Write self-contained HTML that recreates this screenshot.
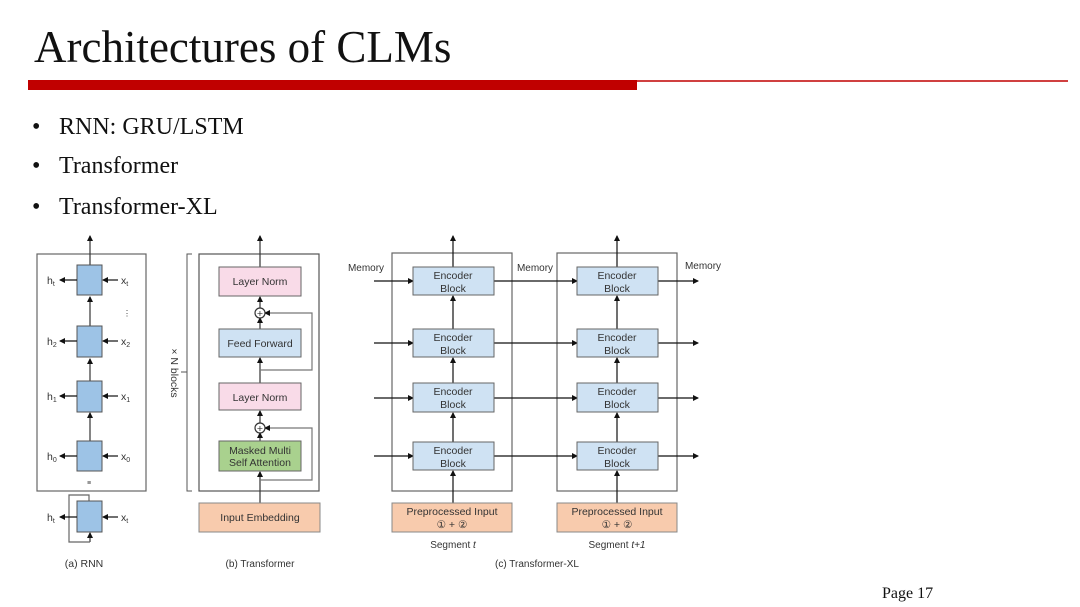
<!DOCTYPE html>
<html><head><meta charset="utf-8"><style>
html,body{margin:0;padding:0;background:#fff;}
svg{display:block;}
.s{font-family:"Liberation Serif",serif;fill:#111;}
.a{font-family:"Liberation Sans",sans-serif;fill:#333;font-size:10.5px;}
</style></head><body>
<svg width="1080" height="607" viewBox="0 0 1080 607" xmlns="http://www.w3.org/2000/svg">
<defs><marker id="ar" markerWidth="6" markerHeight="6" refX="5" refY="3" orient="auto" markerUnits="userSpaceOnUse"><path d="M0,0 L6,3 L0,6 z" fill="#111"/></marker></defs>
<text class="s" x="34" y="62" font-size="45">Architectures of CLMs</text>
<rect x="28" y="80" width="609" height="10" fill="#c00000"/>
<line x1="637" y1="81" x2="1068" y2="81" stroke="#c00000" stroke-width="1.5"/>
<g class="s" font-size="24"><text x="32" y="134">•</text><text x="59" y="134">RNN: GRU/LSTM</text>
<text x="32" y="173">•</text><text x="59" y="173">Transformer</text>
<text x="32" y="214">•</text><text x="59" y="214">Transformer-XL</text></g>
<text class="s" x="882" y="598" font-size="16">Page 17</text>

<g stroke="#333" stroke-width="1.2" fill="none">
<rect x="37" y="254" width="109" height="237" stroke="#666"/>
<line x1="90" y1="441" x2="90" y2="413" marker-end="url(#ar)"/>
<line x1="90" y1="381" x2="90" y2="359" marker-end="url(#ar)"/>
<line x1="90" y1="326" x2="90" y2="297" marker-end="url(#ar)"/>
<line x1="90" y1="265" x2="90" y2="236" marker-end="url(#ar)"/>
<line x1="90" y1="542" x2="90" y2="533" marker-end="url(#ar)"/>
<polyline points="90,542 69,542 69,495 89,495 89,501" stroke="#666"/>
</g>
<g fill="#9dc3e6" stroke="#555">
<rect x="77" y="265" width="25" height="30"/><rect x="77" y="326" width="25" height="31"/>
<rect x="77" y="381" width="25" height="31"/><rect x="77" y="441" width="25" height="30"/>
<rect x="77" y="501" width="25" height="31"/></g>
<g stroke="#111" stroke-width="1.2" marker-end="url(#ar)">
<line x1="77" y1="280" x2="60" y2="280"/><line x1="77" y1="341" x2="60" y2="341"/><line x1="77" y1="396" x2="60" y2="396"/><line x1="77" y1="456" x2="60" y2="456"/><line x1="77" y1="517" x2="60" y2="517"/>
<line x1="118" y1="280" x2="103" y2="280"/><line x1="118" y1="341" x2="103" y2="341"/><line x1="118" y1="396" x2="103" y2="396"/><line x1="118" y1="456" x2="103" y2="456"/><line x1="118" y1="517" x2="103" y2="517"/></g>
<g class="a" font-size="10"><text x="47" y="284">h<tspan font-size="7" dy="2">t</tspan></text><text x="47" y="345">h<tspan font-size="7" dy="2">2</tspan></text><text x="47" y="400">h<tspan font-size="7" dy="2">1</tspan></text><text x="47" y="460">h<tspan font-size="7" dy="2">0</tspan></text><text x="47" y="521">h<tspan font-size="7" dy="2">t</tspan></text>
<text x="121" y="284">x<tspan font-size="7" dy="2">t</tspan></text><text x="121" y="345">x<tspan font-size="7" dy="2">2</tspan></text><text x="121" y="400">x<tspan font-size="7" dy="2">1</tspan></text><text x="121" y="460">x<tspan font-size="7" dy="2">0</tspan></text><text x="121" y="521">x<tspan font-size="7" dy="2">t</tspan></text>
<text x="123" y="316" font-size="8">⋮</text><text x="87" y="485" font-size="7">≡</text></g>
<text class="a" x="84" y="567" text-anchor="middle" font-size="10">(a) RNN</text>

<path d="M192,254 L187,254 L187,491 L192,491 M187,372 L181,372" stroke="#555" fill="none"/>
<text class="a" transform="translate(171,373) rotate(90)" text-anchor="middle" font-size="10">× N blocks</text>
<rect x="199" y="254" width="120" height="237" fill="none" stroke="#555" stroke-width="1.2"/>
<g stroke="#333" stroke-width="1.2" fill="none">
<line x1="260" y1="503" x2="260" y2="472" marker-end="url(#ar)"/>
<line x1="260" y1="441" x2="260" y2="433" marker-end="url(#ar)"/>
<line x1="260" y1="423" x2="260" y2="411" marker-end="url(#ar)"/>
<line x1="260" y1="383" x2="260" y2="358" marker-end="url(#ar)"/>
<line x1="260" y1="329" x2="260" y2="318" marker-end="url(#ar)"/>
<line x1="260" y1="308" x2="260" y2="297" marker-end="url(#ar)"/>
<line x1="260" y1="267" x2="260" y2="236" marker-end="url(#ar)"/>
<polyline points="260,480 312,480 312,428 265,428" stroke="#777" marker-end="url(#ar)"/>
<polyline points="260,370 312,370 312,313 265,313" stroke="#777" marker-end="url(#ar)"/>
<circle cx="260" cy="313" r="5" fill="#fff"/><circle cx="260" cy="428" r="5" fill="#fff"/>
</g>
<text class="a" x="260" y="317" text-anchor="middle" font-size="9">+</text><text class="a" x="260" y="432" text-anchor="middle" font-size="9">+</text>
<rect x="219" y="267" width="82" height="29" fill="#f9dbe8" stroke="#666"/>
<rect x="219" y="329" width="82" height="28" fill="#cfe2f3" stroke="#666"/>
<rect x="219" y="383" width="82" height="27" fill="#f9dbe8" stroke="#666"/>
<rect x="219" y="441" width="82" height="30" fill="#a9d18e" stroke="#666"/>
<rect x="199" y="503" width="121" height="29" fill="#f8cbad" stroke="#888"/>
<g class="a" text-anchor="middle"><text x="260" y="285">Layer Norm</text><text x="260" y="347">Feed Forward</text><text x="260" y="401">Layer Norm</text><text x="260" y="454">Masked Multi</text><text x="260" y="466">Self Attention</text><text x="260" y="521">Input Embedding</text>
<text x="260" y="567" font-size="10">(b) Transformer</text></g>

<rect x="392" y="253" width="120" height="238" fill="none" stroke="#666" stroke-width="1.2"/>
<rect x="557" y="253" width="120" height="238" fill="none" stroke="#666" stroke-width="1.2"/>
<g stroke="#111" stroke-width="1.2" marker-end="url(#ar)">
<line x1="453" y1="503" x2="453" y2="471"/><line x1="453" y1="442" x2="453" y2="413"/><line x1="453" y1="383" x2="453" y2="358"/><line x1="453" y1="329" x2="453" y2="296"/><line x1="453" y1="267" x2="453" y2="236"/>
<line x1="617" y1="503" x2="617" y2="471"/><line x1="617" y1="442" x2="617" y2="413"/><line x1="617" y1="383" x2="617" y2="358"/><line x1="617" y1="329" x2="617" y2="296"/><line x1="617" y1="267" x2="617" y2="236"/>
<line x1="374" y1="281" x2="413" y2="281"/><line x1="374" y1="343" x2="413" y2="343"/><line x1="374" y1="398" x2="413" y2="398"/><line x1="374" y1="456" x2="413" y2="456"/>
<line x1="494" y1="281" x2="577" y2="281"/><line x1="494" y1="343" x2="577" y2="343"/><line x1="494" y1="398" x2="577" y2="398"/><line x1="494" y1="456" x2="577" y2="456"/>
<line x1="658" y1="281" x2="698" y2="281"/><line x1="658" y1="343" x2="698" y2="343"/><line x1="658" y1="398" x2="698" y2="398"/><line x1="658" y1="456" x2="698" y2="456"/>
</g>
<g fill="#cfe2f3" stroke="#666">
<rect x="413" y="267" width="81" height="28"/><rect x="413" y="329" width="81" height="28"/><rect x="413" y="383" width="81" height="29"/><rect x="413" y="442" width="81" height="28"/>
<rect x="577" y="267" width="81" height="28"/><rect x="577" y="329" width="81" height="28"/><rect x="577" y="383" width="81" height="29"/><rect x="577" y="442" width="81" height="28"/></g>
<rect x="392" y="503" width="120" height="29" fill="#f8cbad" stroke="#888"/>
<rect x="557" y="503" width="120" height="29" fill="#f8cbad" stroke="#888"/>
<g class="a" text-anchor="middle">
<text x="453" y="279">Encoder</text><text x="453" y="292">Block</text><text x="453" y="341">Encoder</text><text x="453" y="354">Block</text><text x="453" y="395">Encoder</text><text x="453" y="408">Block</text><text x="453" y="454">Encoder</text><text x="453" y="467">Block</text>
<text x="617" y="279">Encoder</text><text x="617" y="292">Block</text><text x="617" y="341">Encoder</text><text x="617" y="354">Block</text><text x="617" y="395">Encoder</text><text x="617" y="408">Block</text><text x="617" y="454">Encoder</text><text x="617" y="467">Block</text>
<text x="452" y="515">Preprocessed Input</text><text x="452" y="528">① + ②</text>
<text x="617" y="515">Preprocessed Input</text><text x="617" y="528">① + ②</text>
<text x="453" y="548" font-size="10">Segment <tspan font-style="italic">t</tspan></text>
<text x="617" y="548" font-size="10">Segment <tspan font-style="italic">t+1</tspan></text>
<text x="537" y="567" font-size="10">(c) Transformer-XL</text>
<text x="366" y="271" font-size="10">Memory</text><text x="535" y="271" font-size="10">Memory</text><text x="703" y="269" font-size="10">Memory</text>
</g>
</svg>
</body></html>
